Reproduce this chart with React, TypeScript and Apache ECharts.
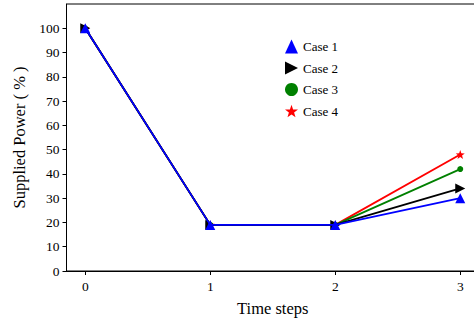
import React, { useEffect, useRef } from "react";
import * as echarts from "echarts";

const timeSteps = [0, 1, 2, 3];
const case1 = [100, 19, 19, 30];
const case2 = [100, 19, 19, 34];
const case3 = [100, 19, 19, 42];
const case4 = [100, 19, 19, 48];
const yTicks = [0, 10, 20, 30, 40, 50, 60, 70, 80, 90, 100];
const seriesNames = ["Case 1", "Case 2", "Case 3", "Case 4"];

const FONT = "Liberation Serif";
const STAR =
  "path://M100,0 L123.5,67.6 L195.1,69.1 L138,112.4 L158.8,180.9 L100,140 L41.2,180.9 L62,112.4 L4.9,69.1 L76.5,67.6 Z";
const RIGHT_TRI = "path://M0,0 L10,5 L0,10 Z";

export default function App() {
  const ref = useRef<HTMLDivElement>(null);
  useEffect(() => {
    if (!ref.current) return;
    const chart = echarts.init(ref.current, null, { renderer: "svg" });
    const pts = (vals: number[]) => timeSteps.map((t, i) => [t, vals[i]]);
    chart.setOption({
      animation: false,
      grid: {
        left: 66.5,
        top: 4,
        height: 267,
        width: 412.5,
        outerBoundsMode: "none",
        containLabel: false,
        show: true,
        borderColor: "#000",
        borderWidth: 1,
        backgroundColor: "transparent",
      },
      legend: {
        orient: "vertical",
        left: 280,
        top: 34.5,
        itemWidth: 13,
        itemHeight: 14,
        itemGap: 7.5,
        textStyle: { fontFamily: FONT, fontSize: 13, color: "#000", lineHeight: 14 },
        data: [
          { name: seriesNames[0], icon: "triangle" },
          { name: seriesNames[1], icon: RIGHT_TRI },
          { name: seriesNames[2], icon: "circle" },
          { name: seriesNames[3], icon: STAR },
        ],
      },
      xAxis: {
        type: "value",
        min: -0.15,
        max: 3.15,
        name: "Time steps",
        nameLocation: "middle",
        nameGap: 29,
        nameTextStyle: { fontFamily: FONT, fontSize: 16.5, color: "#000" },
        axisLine: { show: true, onZero: false, lineStyle: { color: "#000", width: 1 } },
        axisTick: {
          show: true,
          inside: false,
          length: 4,
          customValues: timeSteps,
          lineStyle: { color: "#000" },
        },
        axisLabel: {
          customValues: timeSteps,
          fontFamily: FONT,
          fontSize: 13.5,
          color: "#000",
          margin: 8,
        },
        splitLine: { show: false },
      },
      yAxis: {
        type: "value",
        min: 0,
        max: 110,
        name: "Supplied Power ( % )",
        nameLocation: "middle",
        nameGap: 38,
        nameTextStyle: { fontFamily: FONT, fontSize: 16.5, color: "#000" },
        axisLine: { show: true, onZero: false, lineStyle: { color: "#000", width: 1 } },
        axisTick: {
          show: true,
          inside: false,
          length: 4,
          customValues: yTicks,
          lineStyle: { color: "#000" },
        },
        axisLabel: {
          customValues: yTicks,
          fontFamily: FONT,
          fontSize: 13.5,
          color: "#000",
          margin: 7,
        },
        splitLine: { show: false },
      },
      series: [
        {
          name: seriesNames[3],
          type: "line",
          data: pts(case4),
          symbol: STAR,
          symbolSize: 9,
          showAllSymbol: true,
          lineStyle: { color: "#ff0000", width: 1.8 },
          itemStyle: { color: "#ff0000" },
          z: 2,
        },
        {
          name: seriesNames[2],
          type: "line",
          data: pts(case3),
          symbol: "circle",
          symbolSize: 6,
          showAllSymbol: true,
          lineStyle: { color: "#008000", width: 1.8 },
          itemStyle: { color: "#008000" },
          z: 3,
        },
        {
          name: seriesNames[1],
          type: "line",
          data: pts(case2),
          symbol: RIGHT_TRI,
          symbolSize: 10,
          showAllSymbol: true,
          lineStyle: { color: "#000000", width: 1.8 },
          itemStyle: { color: "#000000" },
          z: 4,
        },
        {
          name: seriesNames[0],
          type: "line",
          data: pts(case1),
          symbol: "triangle",
          symbolSize: 10,
          showAllSymbol: true,
          lineStyle: { color: "#0000ff", width: 1.8 },
          itemStyle: { color: "#0000ff" },
          z: 5,
        },
      ],
    });
    return () => chart.dispose();
  }, []);
  return (
    <div
      ref={ref}
      style={{ position: "fixed", left: 0, top: 0, width: 474, height: 322, background: "#fff" }}
    />
  );
}
